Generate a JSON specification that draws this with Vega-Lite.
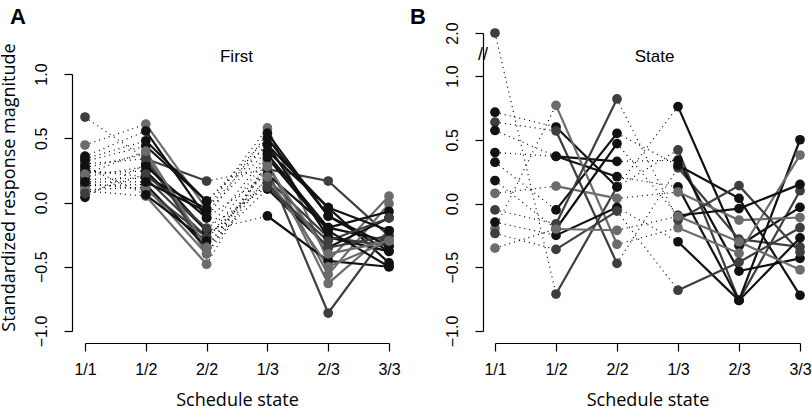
{
  "$schema": "https://vega.github.io/schema/vega-lite/v6.json",
  "autosize": "pad",
  "padding": {"left": 0, "top": 5, "right": 0, "bottom": 0},
  "background": "white",
  "datasets": {
    "A": [
      {"n":"a1","s":"1/1","v":0.665,"c":"d"},{"n":"a1","s":"1/2","v":0.34,"c":"d"},{"n":"a1","s":"2/2","v":0.167,"c":"d"},{"n":"a1","s":"1/3","v":0.26,"c":"d"},{"n":"a1","s":"2/3","v":0.167,"c":"d"},{"n":"a1","s":"3/3","v":-0.26,"c":"d"},
      {"n":"a2","s":"1/1","v":0.447,"c":"g"},{"n":"a2","s":"1/2","v":0.61,"c":"g"},{"n":"a2","s":"2/2","v":-0.05,"c":"g"},{"n":"a2","s":"1/3","v":0.58,"c":"g"},{"n":"a2","s":"2/3","v":-0.455,"c":"g"},{"n":"a2","s":"3/3","v":0.05,"c":"g"},
      {"n":"a3","s":"1/1","v":0.36,"c":"k"},{"n":"a3","s":"1/2","v":0.556,"c":"k"},{"n":"a3","s":"2/2","v":-0.12,"c":"k"},{"n":"a3","s":"1/3","v":0.54,"c":"k"},{"n":"a3","s":"2/3","v":-0.105,"c":"k"},{"n":"a3","s":"3/3","v":-0.38,"c":"k"},
      {"n":"a4","s":"1/1","v":0.32,"c":"k"},{"n":"a4","s":"1/2","v":0.44,"c":"k"},{"n":"a4","s":"2/2","v":0.01,"c":"k"},{"n":"a4","s":"1/3","v":0.45,"c":"k"},{"n":"a4","s":"2/3","v":-0.04,"c":"k"},{"n":"a4","s":"3/3","v":-0.47,"c":"k"},
      {"n":"a5","s":"1/1","v":0.27,"c":"g"},{"n":"a5","s":"1/2","v":0.377,"c":"g"},{"n":"a5","s":"2/2","v":-0.40,"c":"g"},{"n":"a5","s":"1/3","v":0.31,"c":"g"},{"n":"a5","s":"2/3","v":-0.56,"c":"g"},{"n":"a5","s":"3/3","v":-0.01,"c":"g"},
      {"n":"a6","s":"1/1","v":0.23,"c":"k"},{"n":"a6","s":"1/2","v":0.245,"c":"k"},{"n":"a6","s":"2/2","v":-0.22,"c":"k"},{"n":"a6","s":"1/3","v":0.375,"c":"k"},{"n":"a6","s":"2/3","v":-0.196,"c":"k"},{"n":"a6","s":"3/3","v":-0.30,"c":"k"},
      {"n":"a7","s":"1/1","v":0.18,"c":"d"},{"n":"a7","s":"1/2","v":0.19,"c":"d"},{"n":"a7","s":"2/2","v":-0.27,"c":"d"},{"n":"a7","s":"1/3","v":0.18,"c":"d"},{"n":"a7","s":"2/3","v":-0.27,"c":"d"},{"n":"a7","s":"3/3","v":-0.34,"c":"d"},
      {"n":"a8","s":"1/1","v":0.13,"c":"k"},{"n":"a8","s":"1/2","v":0.14,"c":"k"},{"n":"a8","s":"2/2","v":-0.35,"c":"k"},{"n":"a8","s":"1/3","v":0.105,"c":"k"},{"n":"a8","s":"2/3","v":-0.35,"c":"k"},{"n":"a8","s":"3/3","v":-0.12,"c":"k"},
      {"n":"a9","s":"1/1","v":0.09,"c":"g"},{"n":"a9","s":"1/2","v":0.05,"c":"g"},{"n":"a9","s":"2/2","v":-0.48,"c":"g"},{"n":"a9","s":"1/3","v":0.31,"c":"g"},{"n":"a9","s":"2/3","v":-0.63,"c":"g"},{"n":"a9","s":"3/3","v":-0.22,"c":"g"},
      {"n":"a10","s":"1/1","v":0.04,"c":"k"},{"n":"a10","s":"1/2","v":0.30,"c":"k"},{"n":"a10","s":"2/2","v":-0.22,"c":"k"},{"n":"a10","s":"1/3","v":-0.105,"c":"k"},{"n":"a10","s":"2/3","v":-0.455,"c":"k"},{"n":"a10","s":"3/3","v":-0.50,"c":"k"},
      {"n":"a11","s":"1/1","v":0.30,"c":"d"},{"n":"a11","s":"1/2","v":0.34,"c":"d"},{"n":"a11","s":"2/2","v":-0.35,"c":"d"},{"n":"a11","s":"1/3","v":0.26,"c":"d"},{"n":"a11","s":"2/3","v":-0.86,"c":"d"},{"n":"a11","s":"3/3","v":-0.22,"c":"d"},
      {"n":"a12","s":"1/1","v":0.25,"c":"k"},{"n":"a12","s":"1/2","v":0.20,"c":"k"},{"n":"a12","s":"2/2","v":-0.05,"c":"k"},{"n":"a12","s":"1/3","v":0.45,"c":"k"},{"n":"a12","s":"2/3","v":-0.27,"c":"k"},{"n":"a12","s":"3/3","v":-0.38,"c":"k"},
      {"n":"a13","s":"1/1","v":0.20,"c":"k"},{"n":"a13","s":"1/2","v":0.28,"c":"k"},{"n":"a13","s":"2/2","v":-0.12,"c":"k"},{"n":"a13","s":"1/3","v":0.22,"c":"k"},{"n":"a13","s":"2/3","v":-0.196,"c":"k"},{"n":"a13","s":"3/3","v":-0.07,"c":"k"},
      {"n":"a14","s":"1/1","v":0.15,"c":"d"},{"n":"a14","s":"1/2","v":0.10,"c":"d"},{"n":"a14","s":"2/2","v":-0.27,"c":"d"},{"n":"a14","s":"1/3","v":0.15,"c":"d"},{"n":"a14","s":"2/3","v":-0.35,"c":"d"},{"n":"a14","s":"3/3","v":-0.26,"c":"d"},
      {"n":"a15","s":"1/1","v":0.10,"c":"g"},{"n":"a15","s":"1/2","v":0.12,"c":"g"},{"n":"a15","s":"2/2","v":-0.40,"c":"g"},{"n":"a15","s":"1/3","v":0.20,"c":"g"},{"n":"a15","s":"2/3","v":-0.50,"c":"g"},{"n":"a15","s":"3/3","v":-0.30,"c":"g"},
      {"n":"a16","s":"1/1","v":0.34,"c":"k"},{"n":"a16","s":"1/2","v":0.48,"c":"k"},{"n":"a16","s":"2/2","v":0.01,"c":"k"},{"n":"a16","s":"1/3","v":0.50,"c":"k"},{"n":"a16","s":"2/3","v":-0.105,"c":"k"},{"n":"a16","s":"3/3","v":-0.34,"c":"k"},
      {"n":"a17","s":"1/1","v":0.07,"c":"d"},{"n":"a17","s":"1/2","v":0.22,"c":"d"},{"n":"a17","s":"2/2","v":-0.20,"c":"d"},{"n":"a17","s":"1/3","v":0.12,"c":"d"},{"n":"a17","s":"2/3","v":-0.30,"c":"d"},{"n":"a17","s":"3/3","v":-0.12,"c":"d"},
      {"n":"a18","s":"1/1","v":0.28,"c":"k"},{"n":"a18","s":"1/2","v":0.06,"c":"k"},{"n":"a18","s":"2/2","v":-0.30,"c":"k"},{"n":"a18","s":"1/3","v":0.35,"c":"k"},{"n":"a18","s":"2/3","v":-0.22,"c":"k"},{"n":"a18","s":"3/3","v":-0.50,"c":"k"},
      {"n":"a19","s":"1/1","v":0.22,"c":"g"},{"n":"a19","s":"1/2","v":0.40,"c":"g"},{"n":"a19","s":"2/2","v":-0.35,"c":"g"},{"n":"a19","s":"1/3","v":0.28,"c":"g"},{"n":"a19","s":"2/3","v":-0.40,"c":"g"},{"n":"a19","s":"3/3","v":-0.30,"c":"g"},
      {"n":"a20","s":"1/1","v":0.16,"c":"k"},{"n":"a20","s":"1/2","v":0.16,"c":"k"},{"n":"a20","s":"2/2","v":-0.07,"c":"k"},{"n":"a20","s":"1/3","v":0.40,"c":"k"},{"n":"a20","s":"2/3","v":-0.04,"c":"k"},{"n":"a20","s":"3/3","v":-0.22,"c":"k"}
    ],
    "B": [
      {"n":"b1","s":"1/1","v":2.0,"c":"d"},{"n":"b1","s":"1/2","v":-0.71,"c":"d"},{"n":"b1","s":"2/2","v":0.13,"c":"d"},{"n":"b1","s":"1/3","v":0.42,"c":"d"},{"n":"b1","s":"2/3","v":-0.76,"c":"d"},{"n":"b1","s":"3/3","v":0.10,"c":"d"},
      {"n":"b2","s":"1/1","v":0.716,"c":"k"},{"n":"b2","s":"1/2","v":0.60,"c":"k"},{"n":"b2","s":"2/2","v":0.13,"c":"k"},{"n":"b2","s":"1/3","v":0.76,"c":"k"},{"n":"b2","s":"2/3","v":-0.33,"c":"k"},{"n":"b2","s":"3/3","v":-0.03,"c":"k"},
      {"n":"b3","s":"1/1","v":0.638,"c":"d"},{"n":"b3","s":"1/2","v":0.57,"c":"d"},{"n":"b3","s":"2/2","v":-0.47,"c":"d"},{"n":"b3","s":"1/3","v":0.28,"c":"d"},{"n":"b3","s":"2/3","v":-0.28,"c":"d"},{"n":"b3","s":"3/3","v":-0.34,"c":"d"},
      {"n":"b4","s":"1/1","v":0.573,"c":"k"},{"n":"b4","s":"1/2","v":0.37,"c":"k"},{"n":"b4","s":"2/2","v":0.33,"c":"k"},{"n":"b4","s":"1/3","v":0.34,"c":"k"},{"n":"b4","s":"2/3","v":-0.53,"c":"k"},{"n":"b4","s":"3/3","v":-0.43,"c":"k"},
      {"n":"b5","s":"1/1","v":0.40,"c":"k"},{"n":"b5","s":"1/2","v":0.37,"c":"k"},{"n":"b5","s":"2/2","v":0.21,"c":"k"},{"n":"b5","s":"1/3","v":0.13,"c":"k"},{"n":"b5","s":"2/3","v":-0.76,"c":"k"},{"n":"b5","s":"3/3","v":0.50,"c":"k"},
      {"n":"b6","s":"1/1","v":0.08,"c":"g"},{"n":"b6","s":"1/2","v":0.136,"c":"g"},{"n":"b6","s":"2/2","v":0.04,"c":"g"},{"n":"b6","s":"1/3","v":0.09,"c":"g"},{"n":"b6","s":"2/3","v":-0.13,"c":"g"},{"n":"b6","s":"3/3","v":-0.11,"c":"g"},
      {"n":"b7","s":"1/1","v":0.324,"c":"k"},{"n":"b7","s":"1/2","v":-0.05,"c":"k"},{"n":"b7","s":"2/2","v":0.55,"c":"k"},{"n":"b7","s":"1/3","v":0.30,"c":"k"},{"n":"b7","s":"2/3","v":0.04,"c":"k"},{"n":"b7","s":"3/3","v":-0.72,"c":"k"},
      {"n":"b8","s":"1/1","v":-0.196,"c":"g"},{"n":"b8","s":"1/2","v":0.77,"c":"g"},{"n":"b8","s":"2/2","v":-0.32,"c":"g"},{"n":"b8","s":"1/3","v":-0.19,"c":"g"},{"n":"b8","s":"2/3","v":-0.39,"c":"g"},{"n":"b8","s":"3/3","v":0.38,"c":"g"},
      {"n":"b9","s":"1/1","v":-0.05,"c":"d"},{"n":"b9","s":"1/2","v":-0.16,"c":"d"},{"n":"b9","s":"2/2","v":0.82,"c":"d"},{"n":"b9","s":"1/3","v":-0.13,"c":"d"},{"n":"b9","s":"2/3","v":0.14,"c":"d"},{"n":"b9","s":"3/3","v":-0.38,"c":"d"},
      {"n":"b10","s":"1/1","v":0.18,"c":"k"},{"n":"b10","s":"1/2","v":-0.20,"c":"k"},{"n":"b10","s":"2/2","v":0.47,"c":"k"},{"n":"b10","s":"1/3","v":-0.094,"c":"k"},{"n":"b10","s":"2/3","v":-0.04,"c":"k"},{"n":"b10","s":"3/3","v":0.15,"c":"k"},
      {"n":"b11","s":"1/1","v":-0.146,"c":"k"},{"n":"b11","s":"1/2","v":-0.25,"c":"k"},{"n":"b11","s":"2/2","v":-0.03,"c":"k"},{"n":"b11","s":"1/3","v":-0.30,"c":"k"},{"n":"b11","s":"2/3","v":-0.76,"c":"k"},{"n":"b11","s":"3/3","v":-0.27,"c":"k"},
      {"n":"b12","s":"1/1","v":-0.235,"c":"d"},{"n":"b12","s":"1/2","v":-0.36,"c":"d"},{"n":"b12","s":"2/2","v":-0.06,"c":"d"},{"n":"b12","s":"1/3","v":-0.68,"c":"d"},{"n":"b12","s":"2/3","v":-0.46,"c":"d"},{"n":"b12","s":"3/3","v":-0.19,"c":"d"},
      {"n":"b13","s":"1/1","v":-0.35,"c":"g"},{"n":"b13","s":"1/2","v":-0.20,"c":"g"},{"n":"b13","s":"2/2","v":-0.21,"c":"g"},{"n":"b13","s":"1/3","v":-0.10,"c":"g"},{"n":"b13","s":"2/3","v":-0.30,"c":"g"},{"n":"b13","s":"3/3","v":-0.52,"c":"g"}
    ],
    "Brk": [{"t": "//", "v": 1.5}]
  },
  "spacing": 91,
  "bounds": "flush",
  "hconcat": [
    {
      "width": 320,
      "height": 298,
      "data": {"name": "A"},
      "title": {"text": "A", "anchor": "start", "frame": "group", "font": "Liberation Sans", "fontSize": 22, "fontWeight": "bold", "color": "black", "dx": -62, "offset": 4},
      "resolve": {"axis": {"x": "independent"}},
      "encoding": {
        "y": {"field": "v", "type": "quantitative", "scale": {"domain": [-1, 1], "range": [298, 41], "nice": false, "zero": false}, "axis": {"title": "Standardized response magnitude", "titleY": 154, "values": [-1, -0.5, 0, 0.5, 1], "format": ".1f", "labelAngle": -90}}
      },
      "layer": [
        {"transform": [{"filter": {"field": "s", "oneOf": ["1/1", "1/2"]}}], "mark": {"type": "line", "color": "black", "strokeWidth": 1.2, "strokeDash": [1, 4]},
         "encoding": {"x": {"field": "s", "type": "ordinal", "scale": {"type": "point", "domain": ["1/1","1/2","2/2","1/3","2/3","3/3"], "range": [13, 317], "padding": 0}, "axis": {"orient": "top", "title": "First", "labels": false, "ticks": false, "domain": false, "titleFont": "Liberation Sans", "titleFontSize": 17, "titleX": 164, "titleY": 28, "titleBaseline": "alphabetic", "titleAlign": "center"}}, "detail": {"field": "n"}}},
        {"transform": [{"filter": {"field": "s", "oneOf": ["2/2", "1/3"]}}], "mark": {"type": "line", "color": "black", "strokeWidth": 1.2, "strokeDash": [1, 4]},
         "encoding": {"x": {"field": "s", "type": "ordinal", "scale": {"type": "point", "domain": ["1/1","1/2","2/2","1/3","2/3","3/3"], "range": [13, 317], "padding": 0}, "axis": null}, "detail": {"field": "n"}}},
        {"transform": [{"filter": {"field": "s", "oneOf": ["1/2", "2/2"]}}], "mark": {"type": "line", "strokeWidth": 2.2},
         "encoding": {"x": {"field": "s", "type": "ordinal", "scale": {"type": "point", "domain": ["1/1","1/2","2/2","1/3","2/3","3/3"], "range": [13, 317], "padding": 0}, "axis": null}, "detail": {"field": "n"}, "color": {"field": "c", "type": "nominal", "scale": {"domain": ["k","d","g"], "range": ["#111111","#3e3e3e","#6c6c6c"]}, "legend": null}}},
        {"transform": [{"filter": {"field": "s", "oneOf": ["1/3", "2/3", "3/3"]}}], "mark": {"type": "line", "strokeWidth": 2.2},
         "encoding": {"x": {"field": "s", "type": "ordinal", "scale": {"type": "point", "domain": ["1/1","1/2","2/2","1/3","2/3","3/3"], "range": [13, 317], "padding": 0}, "axis": null}, "detail": {"field": "n"}, "color": {"field": "c", "type": "nominal", "scale": {"domain": ["k","d","g"], "range": ["#111111","#3e3e3e","#6c6c6c"]}, "legend": null}}},
        {"mark": {"type": "circle", "size": 95, "opacity": 1},
         "encoding": {"x": {"field": "s", "type": "ordinal", "scale": {"type": "point", "domain": ["1/1","1/2","2/2","1/3","2/3","3/3"], "range": [13, 317], "padding": 0}, "axis": {"orient": "bottom", "title": "Schedule state", "labelAngle": 0, "offset": 12}}, "color": {"field": "c", "type": "nominal", "scale": {"domain": ["k","d","g"], "range": ["#111111","#3e3e3e","#6c6c6c"]}, "legend": null}}}
      ]
    },
    {
      "width": 320,
      "height": 298,
      "data": {"name": "B"},
      "title": {"text": "B", "anchor": "start", "frame": "group", "font": "Liberation Sans", "fontSize": 22, "fontWeight": "bold", "color": "black", "dx": -73, "offset": -7},
      "resolve": {"axis": {"x": "independent"}},
      "encoding": {
        "y": {"field": "v", "type": "quantitative", "scale": {"domain": [-1, 1, 2], "range": [298, 43, 0], "nice": false, "zero": false}, "axis": {"title": null, "values": [-1, -0.5, 0, 0.5, 1, 2], "format": ".1f", "labelAngle": -90}}
      },
      "layer": [
        {"transform": [{"filter": {"field": "s", "oneOf": ["1/1", "1/2"]}}], "mark": {"type": "line", "color": "black", "strokeWidth": 1.2, "strokeDash": [1, 4]},
         "encoding": {"x": {"field": "s", "type": "ordinal", "scale": {"type": "point", "domain": ["1/1","1/2","2/2","1/3","2/3","3/3"], "range": [12, 317], "padding": 0}, "axis": {"orient": "top", "title": "State", "labels": false, "ticks": false, "domain": false, "titleFont": "Liberation Sans", "titleFontSize": 17, "titleX": 171, "titleY": 28, "titleBaseline": "alphabetic", "titleAlign": "center"}}, "detail": {"field": "n"}}},
        {"transform": [{"filter": {"field": "s", "oneOf": ["2/2", "1/3"]}}], "mark": {"type": "line", "color": "black", "strokeWidth": 1.2, "strokeDash": [1, 4]},
         "encoding": {"x": {"field": "s", "type": "ordinal", "scale": {"type": "point", "domain": ["1/1","1/2","2/2","1/3","2/3","3/3"], "range": [12, 317], "padding": 0}, "axis": null}, "detail": {"field": "n"}}},
        {"transform": [{"filter": {"field": "s", "oneOf": ["1/2", "2/2"]}}], "mark": {"type": "line", "strokeWidth": 2.2},
         "encoding": {"x": {"field": "s", "type": "ordinal", "scale": {"type": "point", "domain": ["1/1","1/2","2/2","1/3","2/3","3/3"], "range": [12, 317], "padding": 0}, "axis": null}, "detail": {"field": "n"}, "color": {"field": "c", "type": "nominal", "scale": {"domain": ["k","d","g"], "range": ["#111111","#3e3e3e","#6c6c6c"]}, "legend": null}}},
        {"transform": [{"filter": {"field": "s", "oneOf": ["1/3", "2/3", "3/3"]}}], "mark": {"type": "line", "strokeWidth": 2.2},
         "encoding": {"x": {"field": "s", "type": "ordinal", "scale": {"type": "point", "domain": ["1/1","1/2","2/2","1/3","2/3","3/3"], "range": [12, 317], "padding": 0}, "axis": null}, "detail": {"field": "n"}, "color": {"field": "c", "type": "nominal", "scale": {"domain": ["k","d","g"], "range": ["#111111","#3e3e3e","#6c6c6c"]}, "legend": null}}},
        {"mark": {"type": "circle", "size": 95, "opacity": 1},
         "encoding": {"x": {"field": "s", "type": "ordinal", "scale": {"type": "point", "domain": ["1/1","1/2","2/2","1/3","2/3","3/3"], "range": [12, 317], "padding": 0}, "axis": {"orient": "bottom", "title": "Schedule state", "labelAngle": 0, "offset": 12}}, "color": {"field": "c", "type": "nominal", "scale": {"domain": ["k","d","g"], "range": ["#111111","#3e3e3e","#6c6c6c"]}, "legend": null}}},
        {"data": {"name": "Brk"}, "mark": {"type": "text", "font": "Liberation Sans", "fontSize": 18, "color": "black", "align": "center", "baseline": "middle"}, "encoding": {"x": {"value": 0}, "y": {"field": "v", "type": "quantitative"}, "text": {"field": "t"}}}
      ]
    }
  ],
  "config": {
    "view": {"stroke": null},
    "axis": {
      "grid": false,
      "domainColor": "black",
      "domainWidth": 1.2,
      "tickColor": "black",
      "tickWidth": 1.2,
      "tickSize": 8,
      "labelColor": "black",
      "labelFont": "Liberation Sans",
      "labelFontSize": 16,
      "titleColor": "black",
      "titleFont": "Open Sans",
      "titleFontSize": 18,
      "titleFontWeight": "normal"
    },
    "axisX": {"labelPadding": 10, "titlePadding": 14},
    "axisY": {"labelPadding": 15, "titlePadding": 15}
  }
}
